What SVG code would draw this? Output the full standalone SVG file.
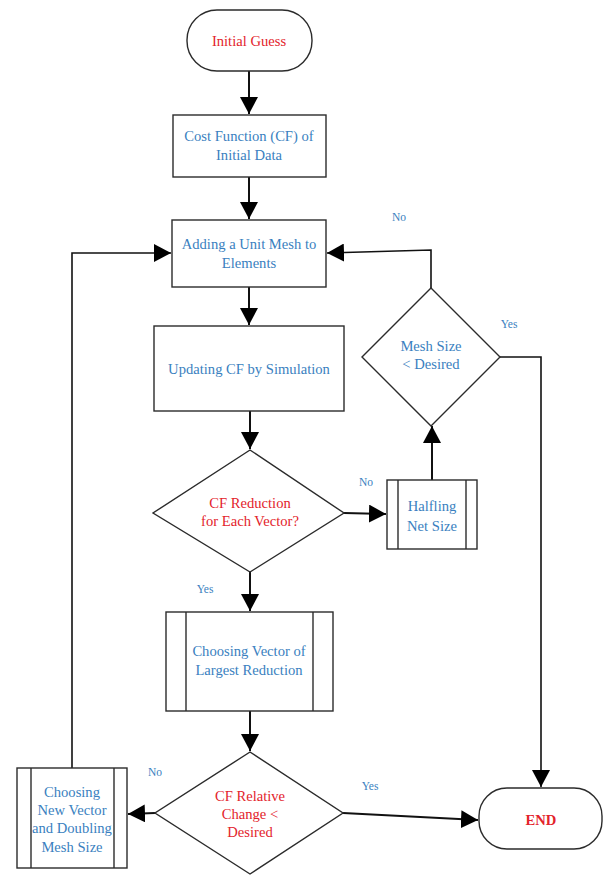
<svg xmlns="http://www.w3.org/2000/svg" width="604" height="875" viewBox="0 0 604 875">
<style>
.shape{fill:#fff;stroke:#2b2b2b;stroke-width:1.4}
.conn{fill:none;stroke:#111;stroke-width:2}
.t{font-family:"Liberation Serif","Times New Roman",serif;font-size:14.6px;text-anchor:middle}
.blue{fill:#3a7fc0}
.red{fill:#e3232b}
.lbl{font-family:"Liberation Serif","Times New Roman",serif;font-size:11.5px;fill:#3a7fc0;text-anchor:middle}
</style>
<defs>
<marker id="ah" markerUnits="userSpaceOnUse" markerWidth="18" markerHeight="18" refX="17" refY="9" orient="auto">
<path d="M0,0 L17,9 L0,18 z" fill="#000"/>
</marker>
</defs>
<rect width="604" height="875" fill="#fff"/>
<g id="connectors">
<path class="conn" d="M249,71 L249,114" marker-end="url(#ah)"/>
<path class="conn" d="M249,177 L249,219" marker-end="url(#ah)"/>
<path class="conn" d="M249,287 L249,325" marker-end="url(#ah)"/>
<path class="conn" d="M250,411 L250,449" marker-end="url(#ah)"/>
<path class="conn" d="M344,513 L386,514" marker-end="url(#ah)"/>
<path class="conn" d="M432,480 L432,426" marker-end="url(#ah)"/>
<path class="conn" style="stroke-width:1.6" d="M431,288 L431,250 L327,253" marker-end="url(#ah)"/>
<path class="conn" style="stroke-width:1.6" d="M500,357 L541,357 L541,787" marker-end="url(#ah)"/>
<path class="conn" d="M250,572 L250,611" marker-end="url(#ah)"/>
<path class="conn" d="M250,711 L250,751" marker-end="url(#ah)"/>
<path class="conn" d="M343,813 L478,820" marker-end="url(#ah)"/>
<path class="conn" d="M155,813 L128,814" marker-end="url(#ah)"/>
<path class="conn" style="stroke-width:1.6" d="M72,768 L72,253 L171,253" marker-end="url(#ah)"/>
<text class="lbl" x="399" y="221">No</text>
<text class="lbl" x="509" y="328">Yes</text>
<text class="lbl" x="366" y="486">No</text>
<text class="lbl" x="205" y="593">Yes</text>
<text class="lbl" x="155" y="776">No</text>
<text class="lbl" x="370" y="790">Yes</text>
</g>
<g id="initial-guess">
<rect class="shape" x="187" y="10" width="125" height="61" rx="30" ry="30"/>
<text class="t red" x="249" y="46">Initial Guess</text>
</g>
<g id="cost-function">
<rect class="shape" x="173" y="115" width="153" height="62"/>
<text class="t blue" x="249" y="141">Cost Function (CF) of</text>
<text class="t blue" x="249" y="160">Initial Data</text>
</g>
<g id="adding-mesh">
<rect class="shape" x="172" y="220" width="154" height="67"/>
<text class="t blue" x="249" y="249">Adding a Unit Mesh to</text>
<text class="t blue" x="249" y="268">Elements</text>
</g>
<g id="updating-cf">
<rect class="shape" x="154" y="326" width="190" height="85"/>
<text class="t blue" x="249" y="374">Updating CF by Simulation</text>
</g>
<g id="cf-reduction">
<polygon class="shape" points="250,450 344,513 250,572 153,513"/>
<text class="t red" x="250" y="508">CF Reduction</text>
<text class="t red" x="250" y="526">for Each Vector?</text>
</g>
<g id="halfling">
<rect class="shape" x="387" y="480" width="90" height="69"/>
<line class="shape" x1="398" y1="480" x2="398" y2="549"/>
<line class="shape" x1="466" y1="480" x2="466" y2="549"/>
<text class="t blue" x="432" y="511">Halfling</text>
<text class="t blue" x="432" y="531">Net Size</text>
</g>
<g id="mesh-size">
<polygon class="shape" points="431,288 500,357 431,426 362,357"/>
<text class="t blue" x="431" y="351">Mesh Size</text>
<text class="t blue" x="431" y="369">&lt; Desired</text>
</g>
<g id="choosing-vector">
<rect class="shape" x="166" y="612" width="167" height="99"/>
<line class="shape" x1="186" y1="612" x2="186" y2="711"/>
<line class="shape" x1="313" y1="612" x2="313" y2="711"/>
<text class="t blue" x="249" y="656">Choosing Vector of</text>
<text class="t blue" x="249" y="675">Largest Reduction</text>
</g>
<g id="cf-relative">
<polygon class="shape" points="250,752 343,813 250,874 155,813"/>
<text class="t red" x="250" y="801">CF Relative</text>
<text class="t red" x="250" y="819">Change &lt;</text>
<text class="t red" x="250" y="837">Desired</text>
</g>
<g id="choosing-new">
<rect class="shape" x="17" y="768" width="110" height="100"/>
<line class="shape" x1="31" y1="768" x2="31" y2="868"/>
<line class="shape" x1="114" y1="768" x2="114" y2="868"/>
<text class="t blue" x="72" y="797">Choosing</text>
<text class="t blue" x="72" y="815">New Vector</text>
<text class="t blue" x="72" y="833">and Doubling</text>
<text class="t blue" x="72" y="852">Mesh Size</text>
</g>
<g id="end">
<rect class="shape" x="479" y="788" width="123" height="61" rx="28" ry="28"/>
<text class="t red" x="541" y="825" font-weight="bold">END</text>
</g>
</svg>
